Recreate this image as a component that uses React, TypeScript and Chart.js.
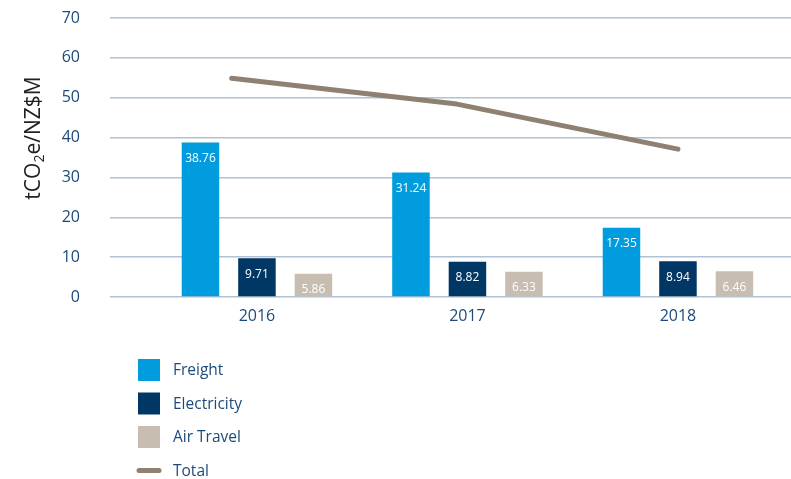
import React, { useEffect, useRef } from "react";
import { Chart, registerables } from "chart.js";

Chart.register(...registerables);

const years = ["2016", "2017", "2018"];
const freight = [38.76, 31.24, 17.35];
const electricity = [9.71, 8.82, 8.94];
const airTravel = [5.86, 6.33, 6.46];
const totalX = [-0.12, 0.95, 2.0];
const totalY = [54.9, 48.4, 37.1];
const yTicks = [0, 10, 20, 30, 40, 50, 60, 70];

const FONT = "'Open Sans', 'Noto Sans', sans-serif";
const TEXT_BLUE = "#1d4a7a";

const labelPlugin = {
  id: "barLabels",
  afterDatasetsDraw(chart: any) {
    const ctx = chart.ctx;
    ctx.save();
    ctx.font = `12px ${FONT}`;
    ctx.fillStyle = "#ffffff";
    ctx.textAlign = "center";
    ctx.textBaseline = "middle";
    chart.data.datasets.forEach((ds: any, i: number) => {
      if (ds.type === "line") return;
      const meta = chart.getDatasetMeta(i);
      meta.data.forEach((el: any, j: number) => {
        const v = ds.data[j].y;
        ctx.fillText(v.toFixed(2), el.x, el.y + 16);
      });
    });
    ctx.restore();
  },
};

const extrasPlugin = {
  id: "extras",
  afterDraw(chart: any) {
    const ctx = chart.ctx;
    ctx.save();
    // Y axis title with subscript
    ctx.translate(34, 138);
    ctx.rotate(-Math.PI / 2);
    ctx.fillStyle = "#222222";
    ctx.textBaseline = "middle";
    const big = `21px ${FONT}`;
    const small = `14px ${FONT}`;
    const parts: [string, string, number][] = [
      ["tCO", big, 0],
      ["2", small, 6],
      ["e/NZ$M", big, 0],
    ];
    let total = 0;
    parts.forEach(([t, f]) => {
      ctx.font = f;
      total += ctx.measureText(t).width;
    });
    let x = -total / 2;
    ctx.textAlign = "left";
    parts.forEach(([t, f, dy]) => {
      ctx.font = f;
      ctx.fillText(t, x, dy);
      x += ctx.measureText(t).width;
    });
    ctx.restore();

    // Legend
    ctx.save();
    const lx = 138;
    const y0 = 370;
    const step = 33.5;
    ctx.font = `15.5px ${FONT}`;
    ctx.textBaseline = "middle";
    ctx.textAlign = "left";
    chart.data.datasets.forEach((ds: any, i: number) => {
      const cy = y0 + i * step;
      if (ds.type === "line") {
        ctx.strokeStyle = ds.borderColor;
        ctx.lineWidth = 5;
        ctx.lineCap = "round";
        ctx.beginPath();
        ctx.moveTo(lx + 1, cy);
        ctx.lineTo(lx + 21, cy);
        ctx.stroke();
      } else {
        ctx.fillStyle = ds.backgroundColor;
        ctx.fillRect(lx, cy - 11, 22, 22);
      }
      ctx.fillStyle = TEXT_BLUE;
      ctx.fillText(ds.label, 173, cy + 1);
    });
    ctx.restore();
  },
};

export default function App() {
  const ref = useRef<HTMLCanvasElement>(null);
  useEffect(() => {
    document.body.style.margin = "0";
    const toPts = (arr: number[]) => arr.map((y, i) => ({ x: i, y }));
    const chart = new Chart(ref.current as HTMLCanvasElement, {
      type: "bar",
      data: {
        datasets: [
          {
            type: "bar",
            label: "Freight",
            data: toPts(freight),
            backgroundColor: "#009cde",
            categoryPercentage: 0.805,
            barPercentage: 0.664,
          },
          {
            type: "bar",
            label: "Electricity",
            data: toPts(electricity),
            backgroundColor: "#003764",
            categoryPercentage: 0.805,
            barPercentage: 0.664,
          },
          {
            type: "bar",
            label: "Air Travel",
            data: toPts(airTravel),
            backgroundColor: "#c8bdb1",
            categoryPercentage: 0.805,
            barPercentage: 0.664,
          },
          {
            type: "line",
            label: "Total",
            data: totalX.map((x, i) => ({ x, y: totalY[i] })),
            borderColor: "#8e8171",
            backgroundColor: "#8e8171",
            borderWidth: 5,
            borderCapStyle: "round",
            borderJoinStyle: "round",
            pointRadius: 0,
            tension: 0,
          },
        ] as any,
      },
      options: {
        responsive: false,
        animation: false,
        layout: { padding: { top: 18, right: 0, bottom: 150, left: 0 } },
        plugins: {
          legend: { display: false },
          tooltip: { enabled: false },
        },
        scales: {
          x: {
            type: "linear",
            offset: false,
            min: -0.698,
            max: 2.537,
            grid: { display: false },
            border: { display: false },
            afterBuildTicks: (scale: any) => {
              scale.ticks = years.map((_, i) => ({ value: i }));
            },
            afterFit: (scale: any) => {
              scale.height = 32;
              scale.paddingLeft = 0;
              scale.paddingRight = 0;
            },
            ticks: {
              padding: 2,
              color: TEXT_BLUE,
              font: { family: FONT, size: 16 },
              callback: (v: any) => years[v] ?? "",
              maxRotation: 0,
              autoSkip: false,
            },
          },
          y: {
            min: 0,
            max: 70,
            afterBuildTicks: (scale: any) => {
              scale.ticks = yTicks.map((v) => ({ value: v }));
            },
            afterFit: (scale: any) => {
              scale.width = 110;
              scale.paddingTop = 0;
              scale.paddingBottom = 0;
            },
            grid: { color: "#b0c2d3", lineWidth: 1.5, drawTicks: false },
            border: { display: false },
            ticks: {
              padding: 30,
              color: TEXT_BLUE,
              font: { family: FONT, size: 16 },
            },
          },
        },
      } as any,
      plugins: [labelPlugin, extrasPlugin],
    });
    return () => chart.destroy();
  }, []);
  return <canvas ref={ref} width={791} height={479} style={{ display: "block" }} />;
}
